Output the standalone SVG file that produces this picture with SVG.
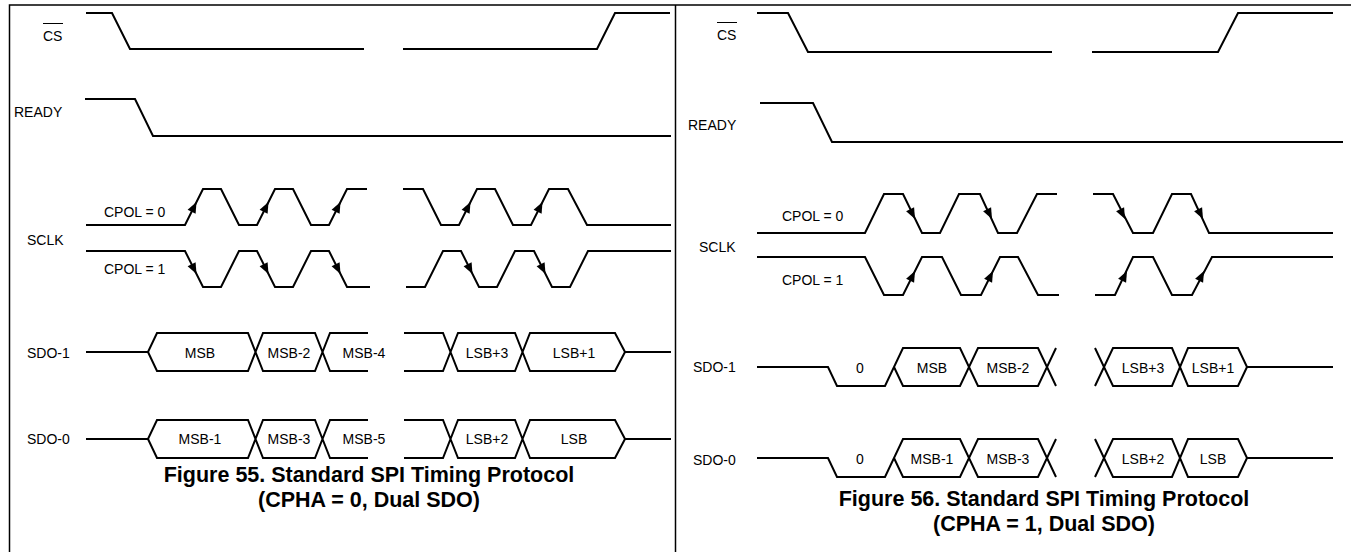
<svg xmlns="http://www.w3.org/2000/svg" xmlns:xlink="http://www.w3.org/1999/xlink" width="1351" height="552" viewBox="0 0 1351 552">
<style>
.w{fill:none;stroke:#000;stroke-width:2;stroke-linejoin:miter;stroke-linecap:butt}
.b{fill:none;stroke:#000;stroke-width:1.5}
.t{font-family:"Liberation Sans",Arial,Helvetica,sans-serif;font-size:14px;fill:#000}
.m{text-anchor:middle}
.cap{font-family:"Liberation Sans",Arial,Helvetica,sans-serif;font-size:21.5px;font-weight:bold;text-anchor:middle;fill:#000}
</style>
<defs>
<path id="au" d="M0,0 L-0.9,11.8 L-8.9,7.8Z" fill="#000"/>
<path id="ad" d="M0,0 L-0.9,-11.8 L-8.9,-7.8Z" fill="#000"/>
</defs>
<rect width="1351" height="552" fill="#fff"/>
<g id="frame">
<path class="b" d="M9.5,552 V5 H675.5 V552 M675.5,5 H1351"/>
</g>
<g id="fig55">
<g id="cs55">
<text class="t" x="43" y="41">CS</text>
<line x1="43" y1="23.5" x2="63" y2="23.5" stroke="#000" stroke-width="1"/>
<path class="w" d="M86,13 H112 L130,49 H364 M403,49 H597 L615,13 H670"/>
</g>
<g id="ready55">
<text class="t" x="14" y="117">READY</text>
<path class="w" d="M85,99 H135 L153,136 H671"/>
</g>
<g id="sclk55">
<text class="t" x="27" y="245">SCLK</text>
<text class="t" x="104" y="217">CPOL = 0</text>
<text class="t" x="104" y="274">CPOL = 1</text>
<path class="w" d="M86,225 H185 L203,189 H221 L239,225 H257 L275,189 H293 L311,225 H329 L347,189 H367 M403,189 H423 L441,225 H459 L477,189 H495 L513,225 H531 L549,189 H568 L587,225 H671"/>
<path class="w" d="M86,251 H185 L203,287 H221 L239,251 H257 L275,287 H293 L311,251 H329 L347,287 H370 M406,287 H425 L443,251 H461 L479,287 H497 L515,251 H534 L552,287 H570 L588,251 H671"/>
<use xlink:href="#au" x="196.5" y="202"/>
<use xlink:href="#au" x="268.5" y="202"/>
<use xlink:href="#au" x="340.5" y="202"/>
<use xlink:href="#au" x="470.5" y="202"/>
<use xlink:href="#au" x="542.5" y="202"/>
<use xlink:href="#ad" x="196.5" y="274"/>
<use xlink:href="#ad" x="268.5" y="274"/>
<use xlink:href="#ad" x="340.5" y="274"/>
<use xlink:href="#ad" x="472.5" y="274"/>
<use xlink:href="#ad" x="545.5" y="274"/>
</g>
<g id="sdo1_55">
<text class="t" x="27" y="358">SDO-1</text>
<path class="w" d="M86,352 H148 L157,333 H248 L263,371 H315 L330,333 H368 M148,352 L157,371 H248 L263,333 H315 L330,371 H368"/>
<path class="w" d="M404,333 H443 L458,371 H515 L530,333 H615 L625,352 H671 M404,371 H443 L458,333 H515 L530,371 H615 L625,352"/>
<text class="t m" x="200" y="358">MSB</text>
<text class="t m" x="289" y="358">MSB-2</text>
<text class="t m" x="364" y="358">MSB-4</text>
<text class="t m" x="487" y="358">LSB+3</text>
<text class="t m" x="574" y="358">LSB+1</text>
</g>
<g id="sdo0_55">
<text class="t" x="27" y="444">SDO-0</text>
<path class="w" d="M86,439 H148 L157,420 H248 L263,458 H315 L330,420 H368 M148,439 L157,458 H248 L263,420 H315 L330,458 H368"/>
<path class="w" d="M404,420 H443 L458,458 H515 L530,420 H615 L625,439 H671 M404,458 H443 L458,420 H515 L530,458 H615 L625,439"/>
<text class="t m" x="200" y="444">MSB-1</text>
<text class="t m" x="289" y="444">MSB-3</text>
<text class="t m" x="364" y="444">MSB-5</text>
<text class="t m" x="487" y="444">LSB+2</text>
<text class="t m" x="574" y="444">LSB</text>
</g>
<g id="caption55">
<text class="cap" x="369" y="482">Figure 55. Standard SPI Timing Protocol</text>
<text class="cap" x="369" y="507">(CPHA = 0, Dual SDO)</text>
</g>
</g>
<g id="fig56">
<g id="cs56">
<text class="t" x="717" y="40">CS</text>
<line x1="717" y1="22.5" x2="737" y2="22.5" stroke="#000" stroke-width="1"/>
<path class="w" d="M757,13 H788 L808,52 H1052 M1092,52 H1218 L1238,13 H1333"/>
</g>
<g id="ready56">
<text class="t" x="688" y="130">READY</text>
<path class="w" d="M760,103 H813 L832,142 H1343"/>
</g>
<g id="sclk56">
<text class="t" x="699" y="252">SCLK</text>
<text class="t" x="782" y="221">CPOL = 0</text>
<text class="t" x="782" y="285">CPOL = 1</text>
<path class="w" d="M757,233 H865 L884,194 H903 L922,233 H940 L959,194 H980 L998,233 H1017 L1037,194 H1057 M1093,194 H1113 L1133,233 H1153 L1172,194 H1191 L1209,233 H1333"/>
<path class="w" d="M757,257 H865 L884,295 H903 L922,257 H942 L961,295 H981 L1000,257 H1018 L1038,295 H1059 M1095,295 H1115 L1133,257 H1153 L1172,295 H1192 L1212,257 H1333"/>
<use xlink:href="#ad" x="915" y="219"/>
<use xlink:href="#ad" x="992" y="219"/>
<use xlink:href="#ad" x="1125" y="219"/>
<use xlink:href="#ad" x="1203" y="219"/>
<use xlink:href="#au" x="915" y="271"/>
<use xlink:href="#au" x="993" y="271"/>
<use xlink:href="#au" x="1127" y="271"/>
<use xlink:href="#au" x="1204" y="271"/>
</g>
<g id="sdo1_56">
<text class="t" x="693" y="372">SDO-1</text>
<path class="w" d="M757,367 H828 L837,386 H885 L903,348 H960 L978,386 H1038 L1056,348 M894,367 L903,386 H960 L978,348 H1038 L1056,386"/>
<path class="w" d="M1095,348 L1113,386 H1172 L1188,348 H1238 L1247,367 H1333 M1095,386 L1113,348 H1172 L1188,386 H1238 L1247,367"/>
<text class="t m" x="860" y="373">0</text>
<text class="t m" x="932" y="373">MSB</text>
<text class="t m" x="1008" y="373">MSB-2</text>
<text class="t m" x="1143" y="373">LSB+3</text>
<text class="t m" x="1213" y="373">LSB+1</text>
</g>
<g id="sdo0_56">
<text class="t" x="693" y="465">SDO-0</text>
<path class="w" d="M757,458 H828 L837,477 H885 L903,439 H960 L978,477 H1038 L1056,439 M894,458 L903,477 H960 L978,439 H1038 L1056,477"/>
<path class="w" d="M1095,439 L1113,477 H1172 L1188,439 H1238 L1247,458 H1333 M1095,477 L1113,439 H1172 L1188,477 H1238 L1247,458"/>
<text class="t m" x="860" y="464">0</text>
<text class="t m" x="932" y="464">MSB-1</text>
<text class="t m" x="1008" y="464">MSB-3</text>
<text class="t m" x="1143" y="464">LSB+2</text>
<text class="t m" x="1213" y="464">LSB</text>
</g>
<g id="caption56">
<text class="cap" x="1044" y="506">Figure 56. Standard SPI Timing Protocol</text>
<text class="cap" x="1044" y="531">(CPHA = 1, Dual SDO)</text>
</g>
</g>
</svg>
